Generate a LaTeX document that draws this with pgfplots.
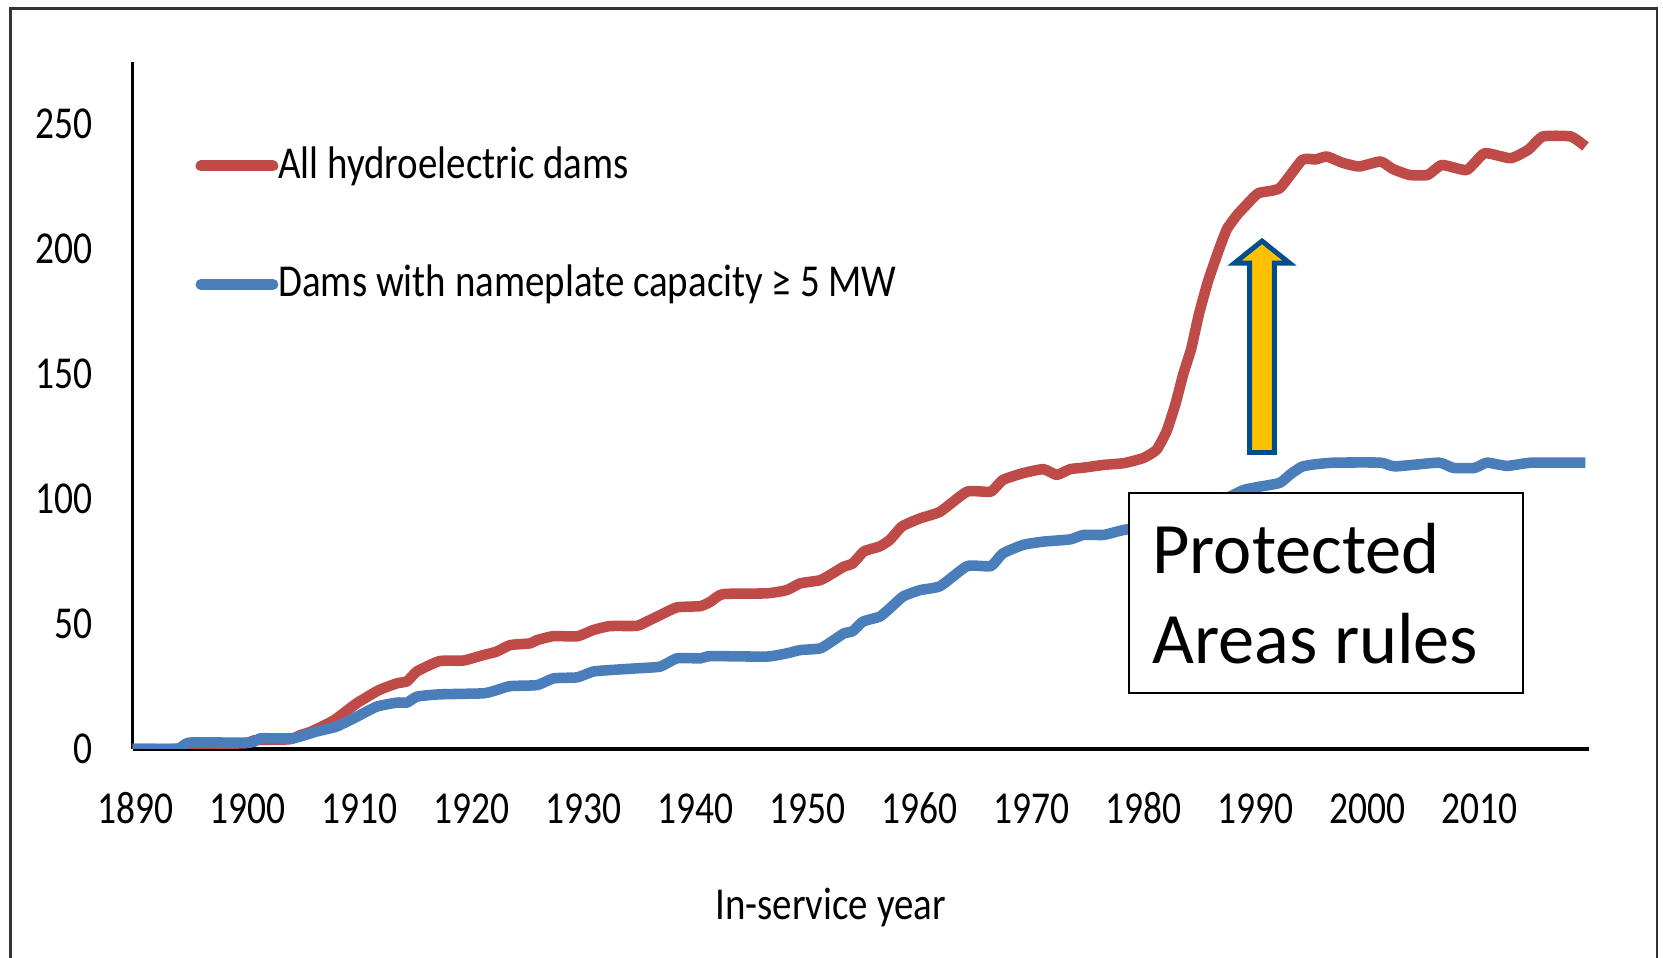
\documentclass[border=0pt]{standalone}
\usepackage{fontspec}
\setmainfont{Carlito}
\newfontfamily\chartfont[FakeStretch=0.82]{Carlito}
\newfontfamily\legfont[FakeStretch=0.852]{Carlito}
\usepackage{pgfplots}
\usepackage{pgfplotstable}
\pgfplotsset{compat=1.18}
\definecolor{redline}{HTML}{BE4B48}
\definecolor{blueline}{HTML}{4A7EBB}
\definecolor{arrowfill}{HTML}{FFC000}
\definecolor{arrowdraw}{RGB}{0,78,138}
\newcommand{\cf}{\chartfont\fontsize{13}{15}\selectfont}
\newcommand{\lf}{\legfont\fontsize{13}{15}\selectfont}
\pgfplotstableread{
year val
1890 0
1894 0
1895 1.5
1896 2
1900 2.2
1901 3.5
1904 3.8
1905 5.5
1906 7
1908 11.5
1910 18.2
1912 23.5
1913.6 26.2
1914.5 27
1915.4 31
1917.4 35.1
1919.5 35.3
1921.3 37.5
1922.5 38.9
1923.7 41.5
1925.5 42.2
1926.1 43.5
1927.6 45.1
1929.7 45
1931.1 47.5
1932.6 49.1
1935 49.2
1935.9 50.9
1937.1 53.5
1938.6 56.6
1940.7 57.1
1941.6 58.9
1942.7 61.9
1946.6 62.2
1948.4 63.5
1949.6 66.2
1951.4 67.5
1952.6 70.5
1953.5 72.9
1954.3 74.2
1955.3 79
1956.7 81
1957.6 83.6
1958.7 89
1960.3 92.2
1962.1 94.9
1964.5 102.9
1966.6 102.9
1967.7 107.6
1969.5 110.3
1971.3 111.9
1972.5 109.6
1973.7 111.9
1974.9 112.5
1976.7 113.6
1978.5 114.3
1980.2 116.3
1981.4 119.6
1982.3 127
1983.1 138
1983.8 150
1984.5 160
1985.2 174
1986 187
1987 200
1987.7 208
1988.6 213.6
1989.3 217
1990.5 222.3
1992.4 224.3
1994.4 235.6
1995.6 235.8
1996.6 237
1998 234.5
1999.5 233
2001.4 235
2002.5 232
2004 229.6
2005.6 229.6
2006.9 233.6
2009.1 231.6
2010.7 238.3
2013 236.3
2014.6 239.7
2015.9 245
2018.4 245
2019.7 241
}\alldams
\pgfplotstableread{
year val
1890 0
1894 0
1895.1 2.5
1900.5 2.5
1901.4 4.2
1904.3 4.2
1906.4 6.9
1908.2 8.9
1910 12.8
1911.8 16.9
1913.6 18.5
1914.5 18.5
1915.4 20.9
1917.4 21.8
1921.3 22.2
1922.5 23.5
1923.7 25.1
1926.1 25.5
1927.6 28.2
1929.7 28.6
1931.1 30.9
1932.6 31.5
1935 32.2
1937.1 32.9
1938.6 36.2
1940.7 36.2
1941.6 37.1
1946.6 36.9
1948.4 38.2
1949.6 39.5
1951.4 40.2
1952.6 43.5
1953.5 46.2
1954.3 47.1
1955.2 50.9
1956.7 52.9
1957.6 56.2
1958.8 61
1960.3 63.5
1962.1 65.1
1964.5 73.1
1966.6 73.1
1967.7 78.2
1969.5 81.6
1971.3 82.9
1973.7 83.8
1974.9 85.6
1976.7 85.6
1978.5 87.6
1980.2 88.5
1982 90
1984 93
1986 97
1988 101
1989.2 103.6
1990.5 104.8
1992.4 106.4
1993.4 110
1994.4 112.9
1995.5 113.8
1997.3 114.5
2001.4 114.5
2002.7 113
2006.6 114.5
2007.9 112.4
2009.8 112.4
2010.9 114.5
2012.7 113.2
2014.9 114.5
2019.7 114.5
}\bigdams
\begin{document}
\begin{tikzpicture}
\useasboundingbox (0,0) rectangle (16.63,9.57);
\fill[white] (0,0) rectangle (16.63,9.57);
\draw[black!80, line width=0.8pt] (0.106,-0.5) -- (0.106,9.485) -- (16.57,9.485) -- (16.57,-0.5);
\begin{axis}[
  at={(1.326cm,2.082cm)}, anchor=south west,
  scale only axis, width=14.562cm, height=6.873cm,
  xmin=1890, xmax=2020, ymin=0, ymax=275,
  axis x line=bottom, axis y line=left,
  axis line style={-},
  x axis line style={line width=1.1pt},
  y axis line style={line width=0.8pt},
  xtick={1890,1900,...,2010}, ytick={0,50,...,250},
  major tick length=0pt,
  /pgf/number format/assume math mode=true,
  /pgf/number format/1000 sep={},
  xticklabel style={anchor=center, inner sep=0pt, yshift=-0.597cm, xshift=0.03cm, font=\cf},
  yticklabel style={anchor=east, inner sep=0pt, xshift=-0.393cm, font=\cf},
  xlabel={In-service year},
  xlabel style={at={(axis description cs:0.4793,-0.249)}, anchor=base, inner sep=0pt, font=\lf},
  legend cell align=left,
  legend style={draw=none, fill=none, inner sep=0pt, outer sep=0pt,
    at={(0.0432,0.8813)}, anchor=north west, row sep=20.7pt, column sep=0cm,
    font=\lf, nodes={inner sep=0pt, text height=10pt, text depth=3pt}},
  legend image code/.code={\draw[#1, line width=3.1pt, line cap=round] (0cm,0cm) -- (0.72cm,0cm);},
]
\addplot[redline, line width=3pt, line join=round, smooth, tension=0.3] table[x=year, y=val] {\alldams};
\addplot[blueline, line width=3pt, line join=round, smooth, tension=0.3] table[x=year, y=val] {\bigdams};
\legend{All hydroelectric dams, Dams with nameplate capacity ≥ 5 MW}
\end{axis}
% annotation box
\draw[black, line width=0.6pt, fill=white] (11.293,4.637) rectangle (15.233,2.637);
\node[anchor=base west, inner sep=0pt, font=\fontsize{20.6}{24}\selectfont] at (11.517,3.837) {Protected};
\node[anchor=base west, inner sep=0pt, font=\fontsize{20.6}{24}\selectfont] at (11.517,2.937) {Areas rules};
% arrow
\draw[arrowdraw, fill=arrowfill, line width=1.4pt, line join=miter]
  (12.62-0.124,5.045) -- (12.62-0.124,6.938) -- (12.62-0.277,6.938) -- (12.62,7.16)
  -- (12.62+0.277,6.938) -- (12.62+0.124,6.938) -- (12.62+0.124,5.045) -- cycle;
\end{tikzpicture}
\end{document}
